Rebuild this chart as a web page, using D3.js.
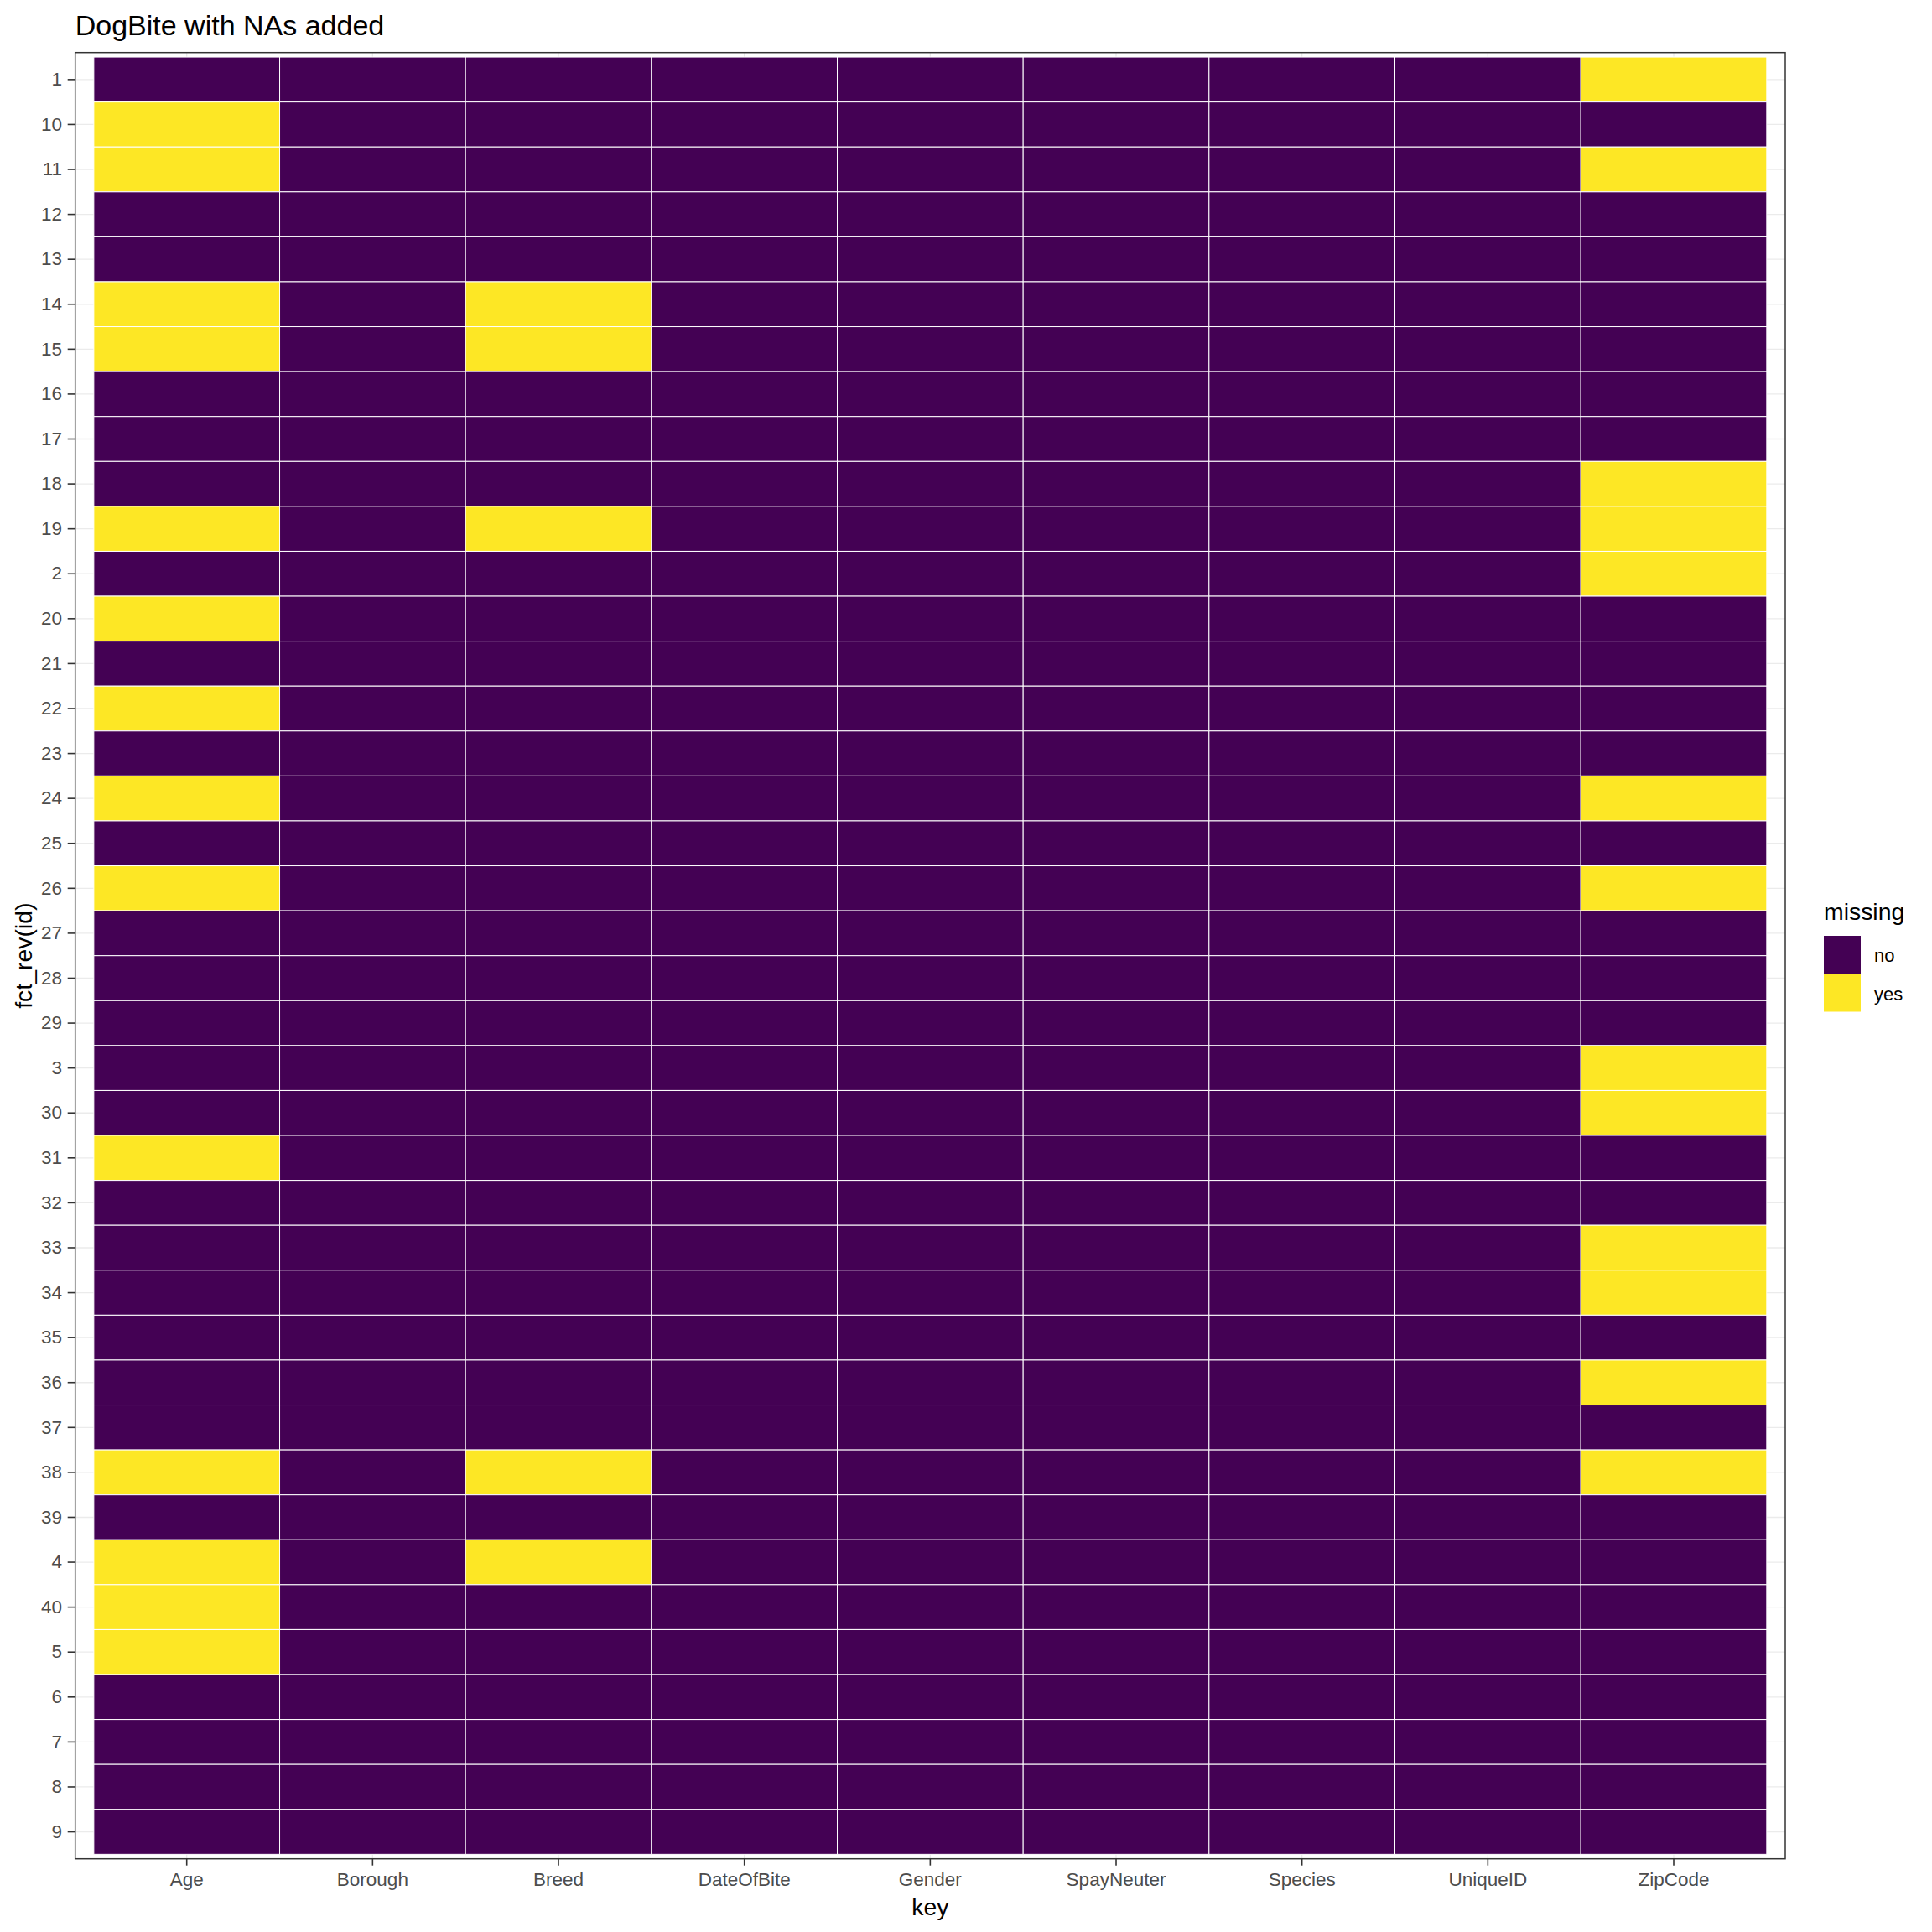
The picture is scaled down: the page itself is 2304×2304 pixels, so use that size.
<!DOCTYPE html>
<html>
<head>
<meta charset="utf-8">
<script src="https://cdn.jsdelivr.net/npm/d3@7"></script>
<style>
  body { margin: 0; background: #fff; }
  text { font-family: "Liberation Sans", Arial, sans-serif; }
</style>
</head>
<body>
<div id="chart"></div>
<script>
(function() {
    // x categories (column names)
    const keys = ["Age", "Borough", "Breed", "DateOfBite", "Gender", "SpayNeuter", "Species", "UniqueID", "ZipCode"];

    // y categories, top to bottom (fct_rev of alphabetical ids)
    const ids = ["1", "10", "11", "12", "13", "14", "15", "16", "17", "18", "19",
                 "2", "20", "21", "22", "23", "24", "25", "26", "27", "28", "29",
                 "3", "30", "31", "32", "33", "34", "35", "36", "37", "38", "39",
                 "4", "40", "5", "6", "7", "8", "9"];

    // ids where each column is missing
    const ageMissing = ["10", "11", "14", "15", "19", "20", "22", "24", "26", "31", "38", "4", "40", "5"];
    const breedMissing = ["14", "15", "19", "38", "4"];
    const zipMissing = ["1", "11", "18", "19", "2", "24", "26", "3", "30", "33", "34", "36", "38"];

    const legendLevels = ["no", "yes"];

    const missingByKey = { Age: ageMissing, Breed: breedMissing, ZipCode: zipMissing };

    const tiles = [];
    keys.forEach(k => {
        ids.forEach(id => {
            const miss = (missingByKey[k] || []).includes(id);
            tiles.push({ key: k, id: id, missing: miss ? "yes" : "no" });
        });
    });

    const width = 2304, height = 2304;
    const panel = { left: 89.7, top: 62.7, right: 2129, bottom: 2216.7 };

    const color = d3.scaleOrdinal().domain(legendLevels).range(["#440154", "#FDE725"]);

    // discrete scales, 0.1 unit of extra room on each side like ggplot's tiles
    const x = d3.scaleBand().domain(keys)
        .range([panel.left, panel.right])
        .paddingInner(0).paddingOuter(0.1);
    const y = d3.scaleBand().domain(ids)
        .range([panel.top, panel.bottom])
        .paddingInner(0).paddingOuter(0.1);

    const svg = d3.select("#chart").append("svg")
        .attr("width", width)
        .attr("height", height);

    // panel grid
    const grid = svg.append("g");
    grid.selectAll("line.gx")
        .data(keys)
        .enter()
        .append("line")
        .attr("x1", d => x(d) + x.bandwidth() / 2)
        .attr("x2", d => x(d) + x.bandwidth() / 2)
        .attr("y1", panel.top)
        .attr("y2", panel.bottom)
        .attr("stroke", "#EBEBEB")
        .attr("stroke-width", 1.3);
    grid.selectAll("line.gy")
        .data(ids)
        .enter()
        .append("line")
        .attr("y1", d => y(d) + y.bandwidth() / 2)
        .attr("y2", d => y(d) + y.bandwidth() / 2)
        .attr("x1", panel.left)
        .attr("x2", panel.right)
        .attr("stroke", "#EBEBEB")
        .attr("stroke-width", 1.3);

    // tiles
    svg.append("g")
        .selectAll("rect")
        .data(tiles)
        .enter()
        .append("rect")
        .attr("x", d => x(d.key))
        .attr("y", d => y(d.id))
        .attr("width", x.bandwidth())
        .attr("height", y.bandwidth())
        .attr("fill", d => color(d.missing))
        .attr("stroke", "#fff")
        .attr("stroke-width", 1);

    // panel border
    svg.append("rect")
        .attr("x", panel.left)
        .attr("y", panel.top)
        .attr("width", panel.right - panel.left)
        .attr("height", panel.bottom - panel.top)
        .attr("fill", "none")
        .attr("stroke", "#333")
        .attr("stroke-width", 1.5);

    // axes
    const xAxis = svg.append("g")
        .attr("transform", "translate(0," + panel.bottom + ")")
        .call(d3.axisBottom(x).tickSize(8).tickPadding(8));
    const yAxis = svg.append("g")
        .attr("transform", "translate(" + panel.left + ",0)")
        .call(d3.axisLeft(y).tickSize(9).tickPadding(6.7));

    [xAxis, yAxis].forEach(a => {
        a.select(".domain").remove();
        a.selectAll(".tick line").attr("stroke", "#333").attr("stroke-width", 1.6);
        a.selectAll(".tick text")
            .attr("fill", "#4D4D4D")
            .attr("font-size", 22.5)
            .attr("font-family", "Liberation Sans, Arial, sans-serif");
    });

    // axis titles
    svg.append("text")
        .attr("x", (panel.left + panel.right) / 2)
        .attr("y", 2284)
        .attr("text-anchor", "middle")
        .attr("font-size", 28.4)
        .attr("fill", "#000")
        .text("key");

    svg.append("text")
        .attr("transform", "translate(38," + ((panel.top + panel.bottom) / 2) + ") rotate(-90)")
        .attr("text-anchor", "middle")
        .attr("font-size", 28.4)
        .attr("fill", "#000")
        .text("fct_rev(id)");

    // title
    svg.append("text")
        .attr("x", panel.left)
        .attr("y", 41.7)
        .attr("font-size", 34)
        .attr("fill", "#000")
        .text("DogBite with NAs added");

    // legend
    const legend = svg.append("g").attr("transform", "translate(2175,1096.7)");
    legend.append("text")
        .attr("x", 0)
        .attr("y", 0)
        .attr("font-size", 28.4)
        .attr("fill", "#000")
        .text("missing");
    const items = legend.selectAll("g.item")
        .data(legendLevels)
        .enter()
        .append("g")
        .attr("transform", (d, i) => "translate(0," + (19.3 + i * 45.5) + ")");
    items.append("rect")
        .attr("width", 44)
        .attr("height", 45)
        .attr("fill", d => color(d));
    items.append("text")
        .attr("x", 60)
        .attr("y", 31)
        .attr("font-size", 22)
        .attr("fill", "#000")
        .text(d => d);
})();
</script>
</body>
</html>
